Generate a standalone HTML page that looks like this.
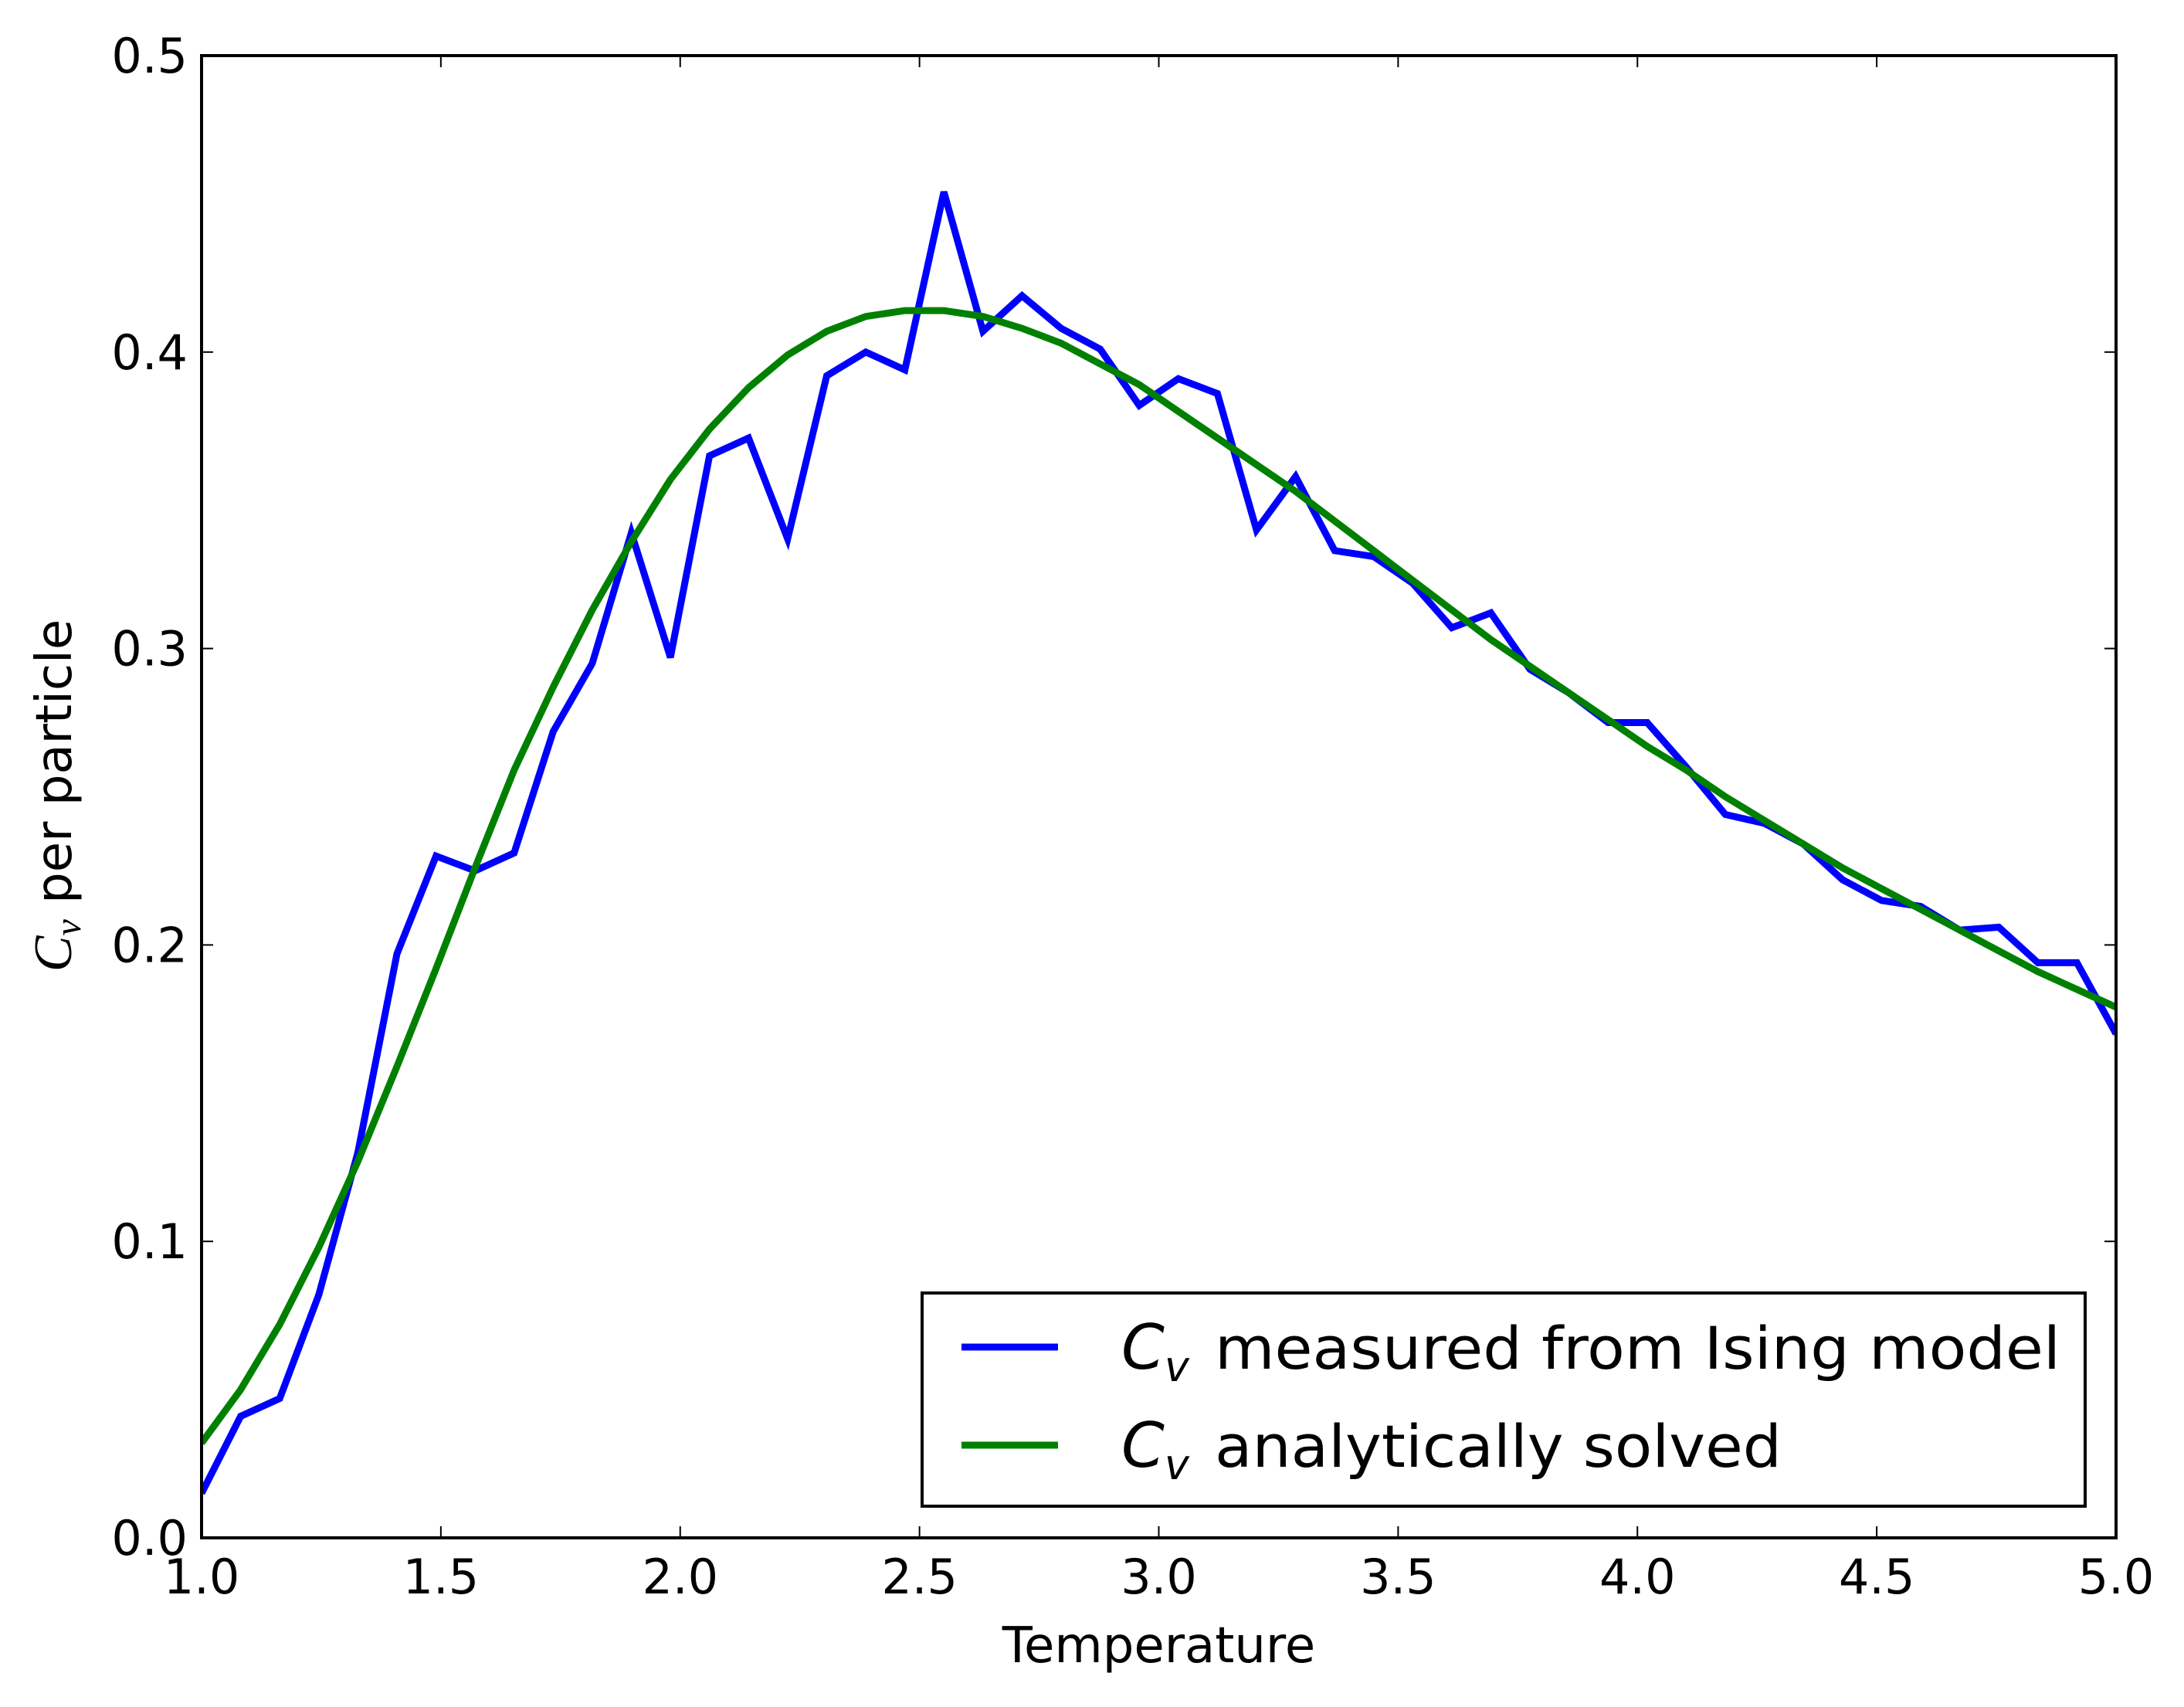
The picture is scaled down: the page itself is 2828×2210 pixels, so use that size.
<!DOCTYPE html>
<html><head><meta charset="utf-8"><style>body{margin:0;background:#fff}svg{display:block}text{font-family:"DejaVu Sans","Liberation Sans",sans-serif}</style></head>
<body>
<svg id="chart" width="2828" height="2210" viewBox="0 0 2828 2210" xmlns="http://www.w3.org/2000/svg">
<rect width="2828" height="2210" fill="#fff"/>
<g id="plot"></g>
</svg>
<script>
const blueVals=[0.015,0.041,0.047,0.082,0.130,0.197,0.230,0.225,0.231,0.272,0.295,0.339,0.297,0.365,0.371,0.337,0.392,0.400,0.394,0.454,0.407,0.419,0.408,0.401,0.382,0.391,0.386,0.340,0.358,0.333,0.331,0.322,0.307,0.312,0.293,0.285,0.275,0.275,0.260,0.244,0.241,0.234,0.222,0.215,0.213,0.205,0.206,0.194,0.194,0.170];
const greenVals=[0.032,0.050,0.072,0.098,0.127,0.159,0.192,0.226,0.259,0.287,0.313,0.336,0.357,0.374,0.388,0.399,0.407,0.412,0.414,0.414,0.412,0.408,0.403,0.396,0.389,0.380,0.371,0.362,0.353,0.343,0.333,0.323,0.313,0.303,0.294,0.285,0.276,0.267,0.259,0.250,0.242,0.234,0.226,0.219,0.212,0.205,0.198,0.191,0.185,0.179];
const xTicks=[1.0,1.5,2.0,2.5,3.0,3.5,4.0,4.5,5.0];
const yTicks=[0.0,0.1,0.2,0.3,0.4,0.5];
const xMin=1,xMax=5,yMin=0,yMax=0.5;
const L=261,R=2740,T=72,B=1991;
const NS='http://www.w3.org/2000/svg';
const g=document.getElementById('plot');
const sx=v=>L+(v-xMin)/(xMax-xMin)*(R-L);
const sy=v=>B-(v-yMin)/(yMax-yMin)*(B-T);
function mk(tag,attrs,parent){const e=document.createElementNS(NS,tag);for(const k in attrs)e.setAttribute(k,attrs[k]);(parent||g).appendChild(e);return e;}
const n=blueVals.length;
const xs=blueVals.map((_,i)=>xMin+i*(xMax-xMin)/(n-1));
const clip=mk('clipPath',{id:'cp'});mk('rect',{x:L,y:T,width:R-L,height:B-T},clip);
function line(vals,color,name){
  const d=vals.map((v,i)=>(i?'L':'M')+sx(xs[i]).toFixed(1)+','+sy(v).toFixed(1)).join('');
  const p=mk('path',{d:d,fill:'none',stroke:color,'stroke-width':9,'stroke-linejoin':'miter','clip-path':'url(#cp)'});
  
  
}
line(blueVals,'#0000ff','measured-series');
line(greenVals,'#008000','analytic-series');
xTicks.forEach(t=>{const x=sx(t);
  mk('line',{x1:x,x2:x,y1:B,y2:B-15,stroke:'#000','stroke-width':2});
  mk('line',{x1:x,x2:x,y1:T,y2:T+15,stroke:'#000','stroke-width':2});
  const tx=mk('text',{x:x,y:B+72,'font-size':62,'text-anchor':'middle'});tx.textContent=t.toFixed(1);
  
  
});
yTicks.forEach(t=>{const y=sy(t);
  mk('line',{x1:L,x2:L+15,y1:y,y2:y,stroke:'#000','stroke-width':2});
  mk('line',{x1:R,x2:R-15,y1:y,y2:y,stroke:'#000','stroke-width':2});
  const tx=mk('text',{x:L-18,y:y+22,'font-size':62,'text-anchor':'end'});tx.textContent=t.toFixed(1);
  
  
});
const fr=mk('rect',{x:L,y:T,width:R-L,height:B-T,fill:'none',stroke:'#000','stroke-width':4});


const xl=mk('text',{x:(L+R)/2,y:2152,'font-size':64,'text-anchor':'middle'});xl.textContent='Temperature';


const yl=mk('text',{x:0,y:0,'font-size':64,'text-anchor':'middle',transform:'translate(92,1030) rotate(-90)'});
yl.innerHTML='<tspan font-family="Liberation Serif,serif" font-style="italic" font-size="70">C</tspan><tspan font-family="Liberation Serif,serif" font-style="italic" font-size="48" dy="12">v</tspan><tspan dy="-12">  per particle</tspan>';


const lg=mk('g',{});


mk('rect',{x:1194,y:1674,width:1506,height:276,fill:'#fff',stroke:'#000','stroke-width':4},lg);
[['#0000ff','measured from Ising model',1744,1095],['#008000','analytically solved',1871,734]].forEach((e,i)=>{
  const le=mk('g',{},lg);
  
  
  mk('line',{x1:1245,x2:1370,y1:e[2],y2:e[2],stroke:e[0],'stroke-width':9},le);
  const c=mk('text',{x:1452,y:e[2]+28,'font-size':80,'font-family':'Liberation Serif,serif','font-style':'italic'},le);
  c.innerHTML='C<tspan font-size="54" dy="16">v</tspan>';
  const t=mk('text',{x:1573,y:e[2]+28,'font-size':76,textLength:e[3],lengthAdjust:'spacingAndGlyphs'},le);
  t.textContent=e[1];
});
</script>
</body></html>
